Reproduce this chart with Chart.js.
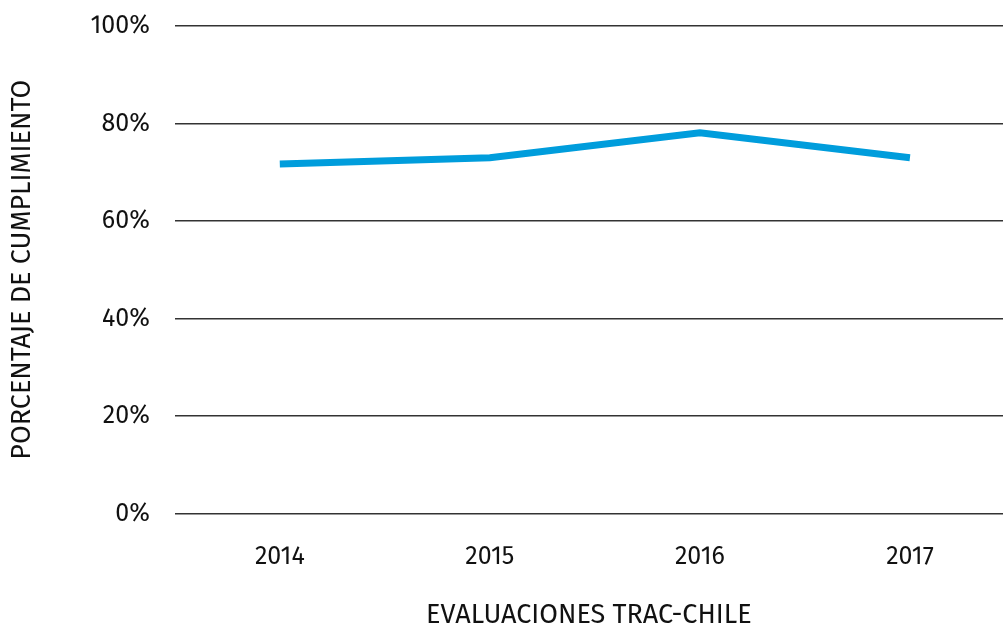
<!DOCTYPE html>
<html><head><meta charset="utf-8">
<script src="https://cdn.jsdelivr.net/npm/chart.js@4/dist/chart.umd.min.js"></script>
<style>html,body{margin:0;padding:0;background:#fff}canvas{display:block}</style>
</head><body>
<canvas id="c" width="1003" height="627"></canvas>
<script>
const categories = ["2014", "2015", "2016", "2017"];
const cumplimiento = [71.7, 73.0, 78.1, 73.0];
const yTicks = [0, 20, 40, 60, 80, 100];
const xTitle = "EVALUACIONES TRAC-CHILE";
const yTitle = "PORCENTAJE DE CUMPLIMIENTO";

const FONT = "'Fira Sans', 'Noto Sans', 'Open Sans', sans-serif";
new Chart(document.getElementById('c'), {
  type: 'line',
  data: {
    datasets: [{
      data: cumplimiento.map((v, i) => ({x: i, y: v})),
      borderColor: '#009ddc',
      borderWidth: 7,
      pointRadius: 0,
      tension: 0,
      fill: false
    }]
  },
  options: {
    responsive: false,
    animation: false,
    plugins: { legend: {display: false}, tooltip: {enabled: false} },
    layout: { padding: {top: 0, right: 0, left: 6, bottom: -5} },
    scales: {
      x: {
        type: 'linear',
        min: -0.5, max: 3.443,
        afterBuildTicks: (s) => { s.ticks = categories.map((c, i) => ({value: i})); },
        grid: {display: false, drawTicks: false},
        border: {display: false},
        ticks: {
          callback: (v) => categories[v],
          color: '#111', font: {family: FONT, size: 25}, padding: 28, maxRotation: 0, autoSkip: false
        },
        title: {display: true, text: xTitle, color: '#111', font: {family: FONT, size: 27}, padding: {top: 0, bottom: 0}}
      },
      y: {
        min: 0, max: 100,
        afterBuildTicks: (s) => { s.ticks = yTicks.map(v => ({value: v})); },
        afterFit: (s) => { s.paddingTop = 26; },
        grid: {color: '#333', lineWidth: 1.5, drawTicks: false},
        border: {display: false},
        ticks: {
          callback: (v) => v + '%',
          color: '#111', font: {family: FONT, size: 25}, padding: 25
        },
        title: {display: true, text: yTitle, color: '#111', font: {family: FONT, size: 27}, padding: {top: 0, bottom: 27}}
      }
    }
  }
});
</script>
</body></html>
